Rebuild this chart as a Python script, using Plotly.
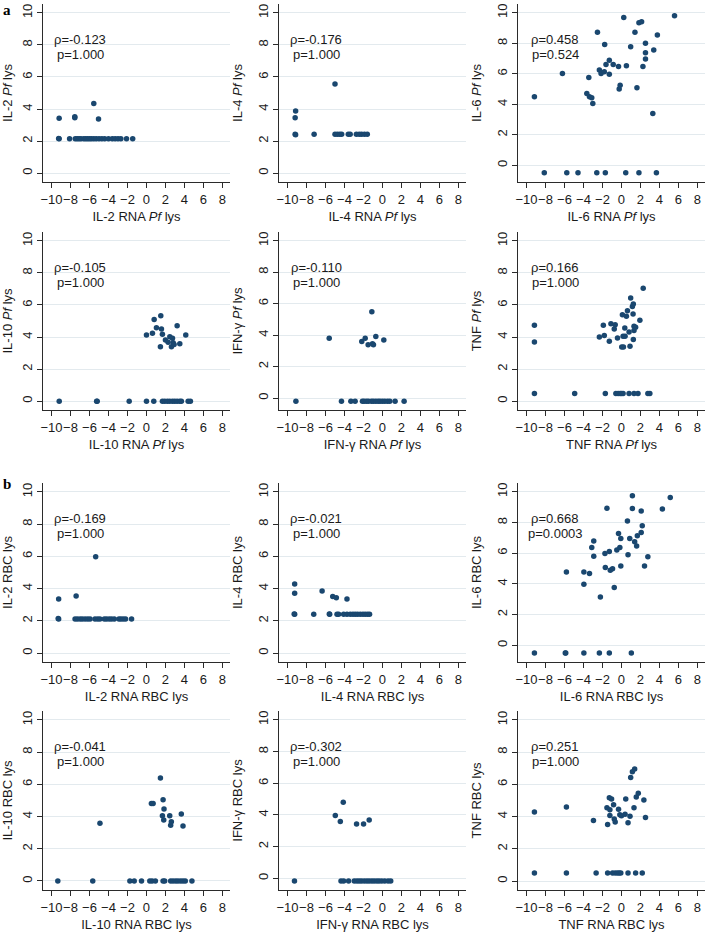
import plotly.graph_objects as go

# ---------------- data ----------------
# Panel a: Pf lysate
il2_pf_x = [-9.2, -9.25, -8.1, -7.5, -7.3, -7.1, -6.9, -6.6, -6.4, -6.2, -6.0, -5.8, -5.55, -5.3, -5.0, -4.7, -4.4,
            -4.0, -3.6, -3.3, -3.0, -2.7, -2.1, -1.45, -9.2, -7.55, -7.55, -5.55, -5.05]
il2_pf_y = [2.15, 2.17, 2.15, 2.15, 2.15, 2.15, 2.15, 2.15, 2.15, 2.15, 2.15, 2.15, 2.15, 2.15, 2.15, 2.15, 2.15,
            2.15, 2.15, 2.15, 2.15, 2.15, 2.15, 2.15, 3.42, 3.52, 3.45, 4.35, 3.38]

il4_pf_x = [-9.15, -9.2, -9.2, -9.15, -7.2, -5.0, -4.75, -4.5, -4.3, -3.6, -3.4, -2.75, -2.45, -2.2, -1.9, -1.6, -5.0]
il4_pf_y = [3.88, 3.46, 2.43, 2.40, 2.43, 2.43, 2.43, 2.43, 2.43, 2.43, 2.43, 2.43, 2.43, 2.43, 2.43, 2.43, 5.56]

il6_pf_x = [-9.17, -8.13, -6.22, -5.76, -4.58, -2.60, -1.70, 0.45, 1.84, 3.68, -2.53, 0.24, 5.59, 1.84, 2.12,
            1.42, 3.78, 2.53, -1.77, 0.97, 3.40, 2.53, 2.53, -1.28, -1.63, -0.87, 2.26, -0.31, 0.52, -2.33,
            -2.15, -1.81, -1.28, -0.14, -0.24, 1.63, -3.44, -3.65, -3.37, -3.13, -3.02, 3.30]
il6_pf_y = [4.49, -0.5, 6.02, -0.5, -0.5, -0.5, -0.5, -0.5, -0.5, -0.5, 8.71, 9.69, 9.80, 9.34, 9.41,
            8.71, 8.53, 7.99, 7.92, 7.77, 7.55, 7.37, 6.96, 6.89, 6.61, 6.61, 6.48, 6.48, 6.52, 6.24,
            6.02, 6.13, 5.97, 5.25, 4.99, 5.08, 5.75, 4.70, 4.49, 4.42, 4.05, 3.39]

il10_pf_x = [-9.19, -5.19, -5.25, -1.82, 0.0, 0.77, 1.68, 1.93, 2.21, 2.46, 2.74, 2.98, 3.23, 3.51, 3.68, 4.39, 4.63,
             0.0, 0.63, 0.81, 1.05, 1.51, 1.58, 1.68, 1.47, 2.0, 2.28, 2.46, 2.63, 2.74, 2.81, 2.91, 3.23, 3.51, 4.14]
il10_pf_y = [0.0, 0.0, 0.0, 0.0, 0.0, 0.0, 0.0, 0.0, 0.0, 0.0, 0.0, 0.0, 0.0, 0.0, 0.0, 0.0, 0.0,
             4.13, 4.23, 5.10, 4.58, 5.33, 4.50, 4.17, 3.40, 3.81, 3.67, 4.02, 3.40, 3.92, 3.65, 3.54, 4.71, 3.58, 4.13]

ifng_pf_x = [-9.12, -4.32, -3.33, -2.88, -2.11, -1.93, -1.68, -1.47, -1.16, -0.95, -0.70, -0.46, -0.25, 0.0, 0.25,
             0.53, 0.77, 1.33, 2.28, -5.61, -1.12, -1.82, -2.18, -1.51, -1.05, -0.95, -0.70, 0.14]
ifng_pf_y = [-0.2, -0.2, -0.2, -0.2, -0.2, -0.2, -0.2, -0.2, -0.2, -0.2, -0.2, -0.2, -0.2, -0.2, -0.2,
             -0.2, -0.2, -0.2, -0.2, 3.81, 5.49, 3.81, 3.60, 3.39, 3.45, 3.39, 3.92, 3.69]

tnf_pf_x = [-9.17, -4.93, -1.70, -0.59, -0.35, -0.14, 0.0, 0.17, 0.80, 1.32, 1.74, 2.78, 2.99,
            -9.17, -9.17, -2.33, -1.81, -1.91, -1.28, -1.11, -0.66, -0.76, -0.42, 0.03, 0.21, 0.17, 0.38, 0.35,
            0.10, 0.52, 0.63, 0.80, 0.90, 0.97, 1.15, 1.25, 1.22, 1.32, 1.32, 1.49, 1.25, 1.94, 2.29]
tnf_pf_y = [0.48, 0.48, 0.48, 0.48, 0.48, 0.48, 0.48, 0.48, 0.48, 0.48, 0.48, 0.48, 0.48,
            4.73, 3.69, 4.00, 4.09, 4.73, 3.73, 4.83, 4.77, 4.50, 3.94, 3.38, 3.38, 4.05, 4.05, 4.56,
            5.39, 5.29, 5.64, 4.32, 3.42, 6.43, 5.91, 6.06, 5.44, 4.67, 4.40, 4.61, 3.84, 5.04, 7.05]

# Panel b: RBC lysate
il2_rbc_x = [-9.25, -9.3, -7.52, -7.27, -6.99, -6.75, -6.47, -6.19, -5.94, -5.42, -5.14, -4.90, -4.44, -4.20, -3.92,
             -3.67, -3.39, -2.90, -2.69, -2.45, -2.20, -1.57, -9.25, -7.41, -5.35]
il2_rbc_y = [2.12, 2.14, 2.12, 2.12, 2.12, 2.12, 2.12, 2.12, 2.12, 2.12, 2.12, 2.12, 2.12, 2.12, 2.12,
             2.12, 2.12, 2.12, 2.12, 2.12, 2.12, 2.12, 3.36, 3.55, 5.98]

il4_rbc_x = [-9.25, -9.3, -7.24, -5.56, -5.6, -4.79, -4.62, -4.09, -3.74, -3.39, -3.11, -2.87, -2.62, -2.34, -2.06,
             -1.82, -1.57, -1.36, -9.25, -9.25, -6.36, -5.24, -4.86, -3.74]
il4_rbc_y = [2.41, 2.43, 2.41, 2.41, 2.43, 2.41, 2.41, 2.41, 2.41, 2.41, 2.41, 2.41, 2.41, 2.41, 2.41,
             2.41, 2.41, 2.41, 4.29, 3.71, 3.86, 3.51, 3.44, 3.36]

il6_rbc_x = [-9.17, -5.87, -5.92, -3.96, -2.33, -1.28, 1.04,
             -5.80, -3.96, -3.37, -3.96, -3.13, -2.92, -2.92, -2.22, -1.74, -1.70, -1.53, -1.28, -1.18, -0.94,
             -0.76, -0.49, -0.31, -0.17, -0.07, -0.07, 0.63, 0.69, 0.87, 1.15, 1.15, 1.39, 1.60, 1.67, 2.08,
             2.08, 2.19, 2.43, 2.78, 4.31, 5.14]
il6_rbc_y = [-0.5, -0.5, -0.5, -0.5, -0.5, -0.5, -0.5,
             4.78, 4.78, 4.67, 3.98, 6.37, 6.80, 5.80, 3.15, 5.97, 5.07, 8.93, 6.11, 4.89, 4.99,
             3.76, 6.20, 7.28, 6.37, 6.96, 5.17, 8.09, 5.89, 6.96, 9.74, 8.91, 6.74, 6.46, 7.13, 7.35,
             8.74, 7.78, 5.17, 5.76, 8.87, 9.63]

il10_rbc_x = [-9.34, -5.66, -1.75, -1.29, -0.52, 0.35, 0.59, 0.94, 1.75, 1.92, 2.55, 2.80, 3.08, 3.32, 3.60, 3.85,
              4.09, 4.79, -4.90, 1.47, 0.52, 0.70, 1.75, 1.85, 1.68, 1.82, 2.45, 2.55, 2.62, 3.67, 3.85]
il10_rbc_y = [0.0, 0.0, 0.0, 0.0, 0.0, 0.0, 0.0, 0.0, 0.0, 0.0, 0.0, 0.0, 0.0, 0.0, 0.0, 0.0,
              0.0, 0.0, 3.59, 6.39, 4.81, 4.81, 5.04, 4.46, 4.05, 3.78, 4.05, 3.46, 3.67, 4.15, 3.42]

ifng_rbc_x = [-9.27, -4.37, -4.09, -3.57, -2.97, -2.69, -2.45, -2.20, -1.92, -1.64, -1.40, -1.12, -0.87, -0.59,
              -0.35, -0.07, 0.24, 0.59, 0.87, -4.97, -4.13, -4.44, -2.73, -1.99, -1.40]
ifng_rbc_y = [-0.17, -0.17, -0.17, -0.17, -0.17, -0.17, -0.17, -0.17, -0.17, -0.17, -0.17, -0.17, -0.17, -0.17,
              -0.17, -0.17, -0.17, -0.17, -0.17, 3.96, 4.80, 3.58, 3.43, 3.43, 3.68]

tnf_rbc_x = [-9.17, -5.80, -2.67, -1.46, -0.94, -0.66, -0.42, -0.24, -0.07, 0.69, 1.49, 2.19,
             -9.17, -5.80, -2.95, -1.53, -1.46, -1.28, -1.04, -1.22, -1.22, -0.83, -0.76, -0.66, -0.31, -0.17,
             0.0, 0.38, 0.45, 0.69, 0.90, 0.97, 1.15, 1.39, 1.32, 1.56, 1.77, 2.36, 2.53]
tnf_rbc_y = [0.5, 0.5, 0.5, 0.5, 0.5, 0.5, 0.5, 0.5, 0.5, 0.5, 0.5, 0.5,
             4.28, 4.59, 3.76, 4.55, 3.51, 5.17, 5.10, 4.42, 4.07, 4.73, 3.86, 3.66, 4.46, 4.11,
             4.05, 4.15, 5.10, 3.62, 4.03, 6.43, 6.78, 6.95, 4.55, 5.21, 5.45, 5.03, 3.95]

rho_labels = ["ρ=-0.123", "ρ=-0.176", "ρ=0.458", "ρ=-0.105", "ρ=-0.110", "ρ=0.166",
              "ρ=-0.169", "ρ=-0.021", "ρ=0.668", "ρ=-0.041", "ρ=-0.302", "ρ=0.251"]
p_labels = ["p=1.000", "p=1.000", "p=0.524", "p=1.000", "p=1.000", "p=1.000",
            "p=1.000", "p=1.000", "p=0.0003", "p=1.000", "p=1.000", "p=1.000"]
x_titles = ["IL-2 RNA <i>Pf</i> lys", "IL-4 RNA <i>Pf</i> lys", "IL-6 RNA <i>Pf</i> lys",
            "IL-10 RNA <i>Pf</i> lys", "IFN-γ RNA <i>Pf</i> lys", "TNF RNA <i>Pf</i> lys",
            "IL-2 RNA RBC lys", "IL-4 RNA RBC lys", "IL-6 RNA RBC lys",
            "IL-10 RNA RBC lys", "IFN-γ RNA RBC lys", "TNF RNA RBC lys"]
y_titles = ["IL-2 <i>Pf</i> lys", "IL-4 <i>Pf</i> lys", "IL-6 <i>Pf</i> lys",
            "IL-10 <i>Pf</i> lys", "IFN-γ <i>Pf</i> lys", "TNF <i>Pf</i> lys",
            "IL-2 RBC lys", "IL-4 RBC lys", "IL-6 RBC lys",
            "IL-10 RBC lys", "IFN-γ RBC lys", "TNF RBC lys"]
x_ticks = [-10, -8, -6, -4, -2, 0, 2, 4, 6, 8]
y_ticks = [0, 2, 4, 6, 8, 10]
section_labels = ["a", "b"]

panels = [(il2_pf_x, il2_pf_y), (il4_pf_x, il4_pf_y), (il6_pf_x, il6_pf_y),
          (il10_pf_x, il10_pf_y), (ifng_pf_x, ifng_pf_y), (tnf_pf_x, tnf_pf_y),
          (il2_rbc_x, il2_rbc_y), (il4_rbc_x, il4_rbc_y), (il6_rbc_x, il6_rbc_y),
          (il10_rbc_x, il10_rbc_y), (ifng_rbc_x, ifng_rbc_y), (tnf_rbc_x, tnf_rbc_y)]

# ---------------- layout / styling ----------------
W, H = 709, 932
col_px = [(43, 230), (279, 466), (518, 705)]
row_px = [(4, 182), (232, 410), (483, 662), (711, 890)]
y_ranges = [[-0.55, 10.55], [-0.55, 10.55], [-1.1, 10.57],
            [-0.55, 10.55], [-0.75, 10.55], [-0.55, 10.55],
            [-0.55, 10.55], [-0.55, 10.55], [-1.09, 10.57],
            [-0.56, 10.55], [-0.73, 10.55], [-0.55, 10.55]]
x_range = [-10.9, 8.8]

FONT = "Liberation Sans, Arial, sans-serif"
TXT = "#1a1a1a"
AX = "#2b2b2b"
MARK = "#1a476f"
GRID = "#e3eaee"

fig = go.Figure()
layout = dict(width=W, height=H, margin=dict(l=0, r=0, t=0, b=0), autosize=False,
              paper_bgcolor="white", plot_bgcolor="white", showlegend=False,
              template="none", font=dict(family=FONT, size=13, color=TXT))
annotations = []

for i, (xs, ys) in enumerate(panels):
    r, c = divmod(i, 3)
    n = "" if i == 0 else str(i + 1)
    fig.add_trace(go.Scatter(x=xs, y=ys, mode="markers", xaxis="x" + n, yaxis="y" + n,
                             marker=dict(color=MARK, size=5.5, line=dict(width=0)),
                             hoverinfo="x+y"))
    x0, x1 = col_px[c]
    t, b = row_px[r]
    h = b - t
    layout["xaxis" + n] = dict(
        domain=[x0 / W, x1 / W], anchor="y" + n, range=x_range, tickvals=x_ticks, tickangle=0,
        ticks="outside", ticklen=5, tickwidth=1, tickcolor=AX, showline=True, linecolor=AX, linewidth=1,
        showgrid=False, zeroline=False, automargin=False, tickfont=dict(size=13, color=TXT, family=FONT),
        title=dict(text=x_titles[i], font=dict(size=13, color=TXT, family=FONT), standoff=6))
    layout["yaxis" + n] = dict(
        domain=[1 - b / H, 1 - t / H], anchor="x" + n, range=y_ranges[i], tickvals=y_ticks,
        tickangle=-90, ticks="outside", ticklen=5, tickwidth=1, tickcolor=AX, showline=True, linecolor=AX,
        linewidth=1, showgrid=True, gridcolor=GRID, gridwidth=1, zeroline=False, automargin=False,
        tickfont=dict(size=13, color=TXT, family=FONT),
        title=dict(text=y_titles[i], font=dict(size=13, color=TXT, family=FONT), standoff=10))
    annotations.append(dict(text=rho_labels[i], xref="x" + n + " domain", yref="y" + n + " domain",
                            x=0.2, y=1 - 35 / h, showarrow=False, xanchor="center", yanchor="middle",
                            font=dict(size=13, color=TXT, family=FONT)))
    annotations.append(dict(text=p_labels[i], xref="x" + n + " domain", yref="y" + n + " domain",
                            x=0.2, y=1 - 50 / h, showarrow=False, xanchor="center", yanchor="middle",
                            font=dict(size=13, color=TXT, family=FONT)))

annotations.append(dict(text="<b>" + section_labels[0] + "</b>", xref="paper", yref="paper",
                        x=1 / W, y=1.0, showarrow=False, xanchor="left", yanchor="top",
                        font=dict(size=15, color="#000", family="Liberation Serif, Times New Roman, serif")))
annotations.append(dict(text="<b>" + section_labels[1] + "</b>", xref="paper", yref="paper",
                        x=1 / W, y=1 - 474 / H, showarrow=False, xanchor="left", yanchor="top",
                        font=dict(size=15, color="#000", family="Liberation Serif, Times New Roman, serif")))

layout["annotations"] = annotations
fig.update_layout(**layout)
fig.write_html("out.html", config={"displayModeBar": False},
               post_script="document.body.style.margin='0';")
